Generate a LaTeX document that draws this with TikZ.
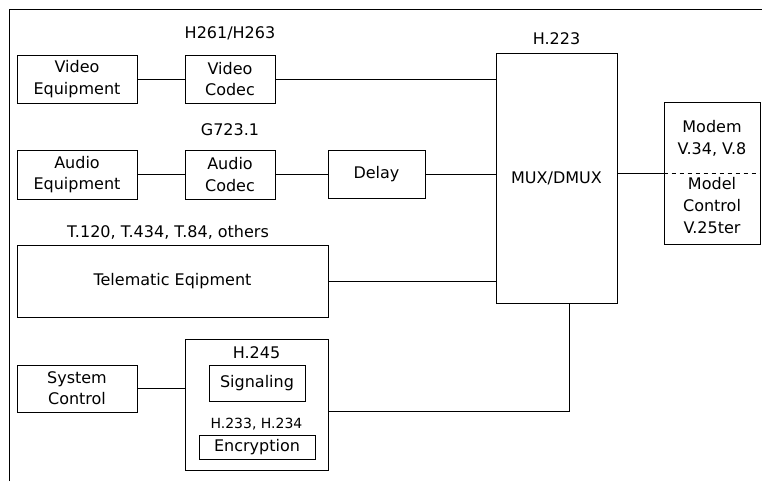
\documentclass[tikz,border=0pt]{standalone}
\usepackage{fontspec}
\setmainfont{DejaVu Sans}
\usetikzlibrary{calc,positioning}

\tikzset{
  blk/.style={draw, line width=0.6pt, align=center, inner sep=0pt,
    font=\fontsize{12}{16}\selectfont},
  lbl/.style={inner sep=0pt, font=\fontsize{12}{16.5}\selectfont},
  wire/.style={line width=0.6pt}
}

\begin{document}
\begin{tikzpicture}[x=0.75pt,y=-0.75pt]
            \useasboundingbox (0,0) rectangle (762,481);
            % frame
            \draw[wire] (9,481) -- (9,9) -- (762,9);
            % video path
            \node[blk, minimum width=90pt, minimum height=36pt] (veq) at (77,79) {Video\\Equipment};
            \node[blk, minimum width=67.5pt, minimum height=36pt] (vcod) at (230,79) {Video\\Codec};
            \node[lbl] (vstd) at (230,33) {H261/H263};
            % audio path
            \node[blk, minimum width=90pt, minimum height=36.75pt] (aeq) at (77,174.5) {Audio\\Equipment};
            \node[blk, minimum width=67.5pt, minimum height=36.75pt] (acod) at (230,174.5) {Audio\\Codec};
            \node[lbl] (astd) at (230,130) {G723.1};
            \node[blk, minimum width=72.75pt, minimum height=36pt] (delay) at (376.5,174) {Delay};
            % mux and modem
            \node[blk, minimum width=90.75pt, minimum height=187.5pt] (mux) at (556.5,178) {MUX/DMUX};
            \node[lbl] (mstd) at (556.5,39) {H.223};
            \node[draw, line width=0.6pt, minimum width=72pt, minimum height=106.5pt] (modem) at (712,173) {};
            \draw[dashed, line width=0.5pt] (modem.west) -- (modem.east);
            \node[lbl, align=center] (modtop) at (712,138) {Modem\\V.34, V.8};
            \node[lbl, align=center] (modbot) at (712,206) {Model\\Control\\V.25ter};
            % telematic
            \node[blk, minimum width=233.25pt, minimum height=54pt] (tele) at (172.5,281) {Telematic Eqipment};
            \node[lbl] (tstd) at (168,232) {T.120, T.434, T.84, others};
            % system control
            \node[blk, minimum width=90pt, minimum height=35.25pt] (sys) at (77,388.5) {System\\Control};
            \node[draw, line width=0.6pt, minimum width=107.25pt, minimum height=98.25pt] (h245) at (256.5,404.5) {};
            \node[lbl] (hstd) at (256.5,353) {H.245};
            \node[blk, minimum width=72pt, minimum height=27pt] (sig) at (257,383) {Signaling};
            \node[lbl, font=\fontsize{10.5}{12}\selectfont] (estd) at (256.5,424) {H.233, H.234};
            \node[blk, minimum width=87pt, minimum height=18pt] (enc) at (257,447) {Encryption};
            % connections
            \draw[wire] (veq) -- (vcod);
            \draw[wire] (vcod.east) -- (vcod.east -| mux.west);
            \draw[wire] (aeq) -- (acod);
            \draw[wire] (acod) -- (acod -| delay.west);
            \draw[wire] (delay.east) -- (delay.east -| mux.west);
            \draw[wire] (mux.east |- modem.west) -- (modem.west);
            \draw[wire] (tele.east) -- (tele.east -| mux.west);
            \draw[wire] (sys.east) -- (sys.east -| h245.west);
            \coordinate (bend) at (569,411);
            \draw[wire] (h245.east |- bend) -- (bend) -- (bend |- mux.south);
        \end{tikzpicture}
\end{document}
